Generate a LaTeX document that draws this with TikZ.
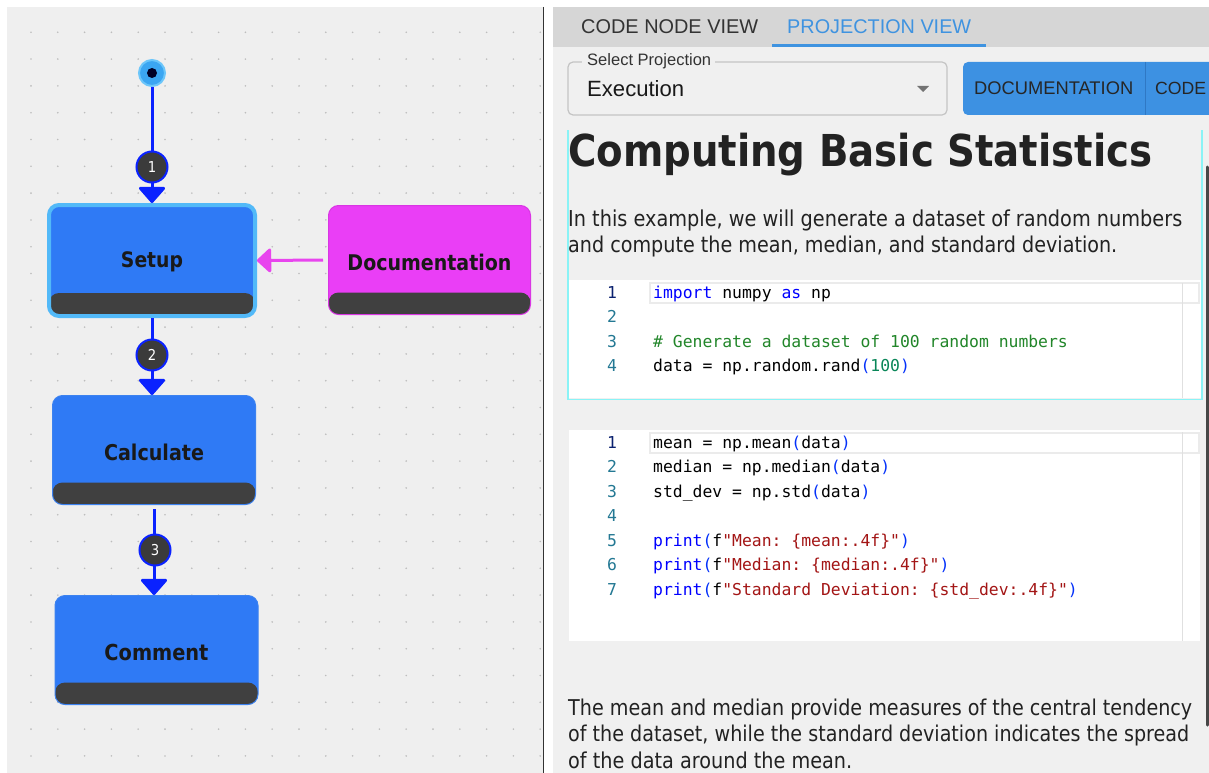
\documentclass[tikz,border=0pt]{standalone}
\usepackage{fontspec}
\usepackage{graphicx}
\setmonofont{DejaVu Sans Mono}
\newfontfamily\uifont{Liberation Sans}
\newfontfamily\tahfont[FakeStretch=0.88]{DejaVu Sans}
\usetikzlibrary{arrows.meta}
\definecolor{panelgray}{HTML}{EFEFEF}
\definecolor{rpanel}{HTML}{F0F0F0}
\definecolor{tabbar}{HTML}{D6D6D6}
\definecolor{tabblue}{HTML}{3F93E0}
\definecolor{uitext}{HTML}{333333}
\definecolor{selborder}{HTML}{C4C4C4}
\definecolor{btnblue}{HTML}{3D91E2}
\definecolor{btndiv}{HTML}{2F78C4}
\definecolor{cyanb}{HTML}{8AF3F6}
\definecolor{txt}{HTML}{222222}
\definecolor{nodeblue}{HTML}{2F7AF5}
\definecolor{nodeborder}{HTML}{3C82F0}
\definecolor{ring}{HTML}{52B9F8}
\definecolor{band}{HTML}{404040}
\definecolor{magentaf}{HTML}{EA3EF6}
\definecolor{magentab}{HTML}{D936E3}
\definecolor{edgeblue}{HTML}{0A22FF}
\definecolor{edgemag}{HTML}{E845EE}
\definecolor{badgefill}{HTML}{3B3B3B}
\definecolor{startfill}{HTML}{3BA6F2}
\definecolor{startring}{HTML}{6CC6FA}
\definecolor{dotc}{HTML}{BDBDBD}
\definecolor{kwblue}{HTML}{0000FF}
\definecolor{cmgreen}{HTML}{22862A}
\definecolor{numgreen}{HTML}{098658}
\definecolor{strred}{HTML}{A31515}
\definecolor{brblue}{HTML}{0431FA}
\definecolor{lnum}{HTML}{237893}
\definecolor{lnumact}{HTML}{0B216F}
\newcommand\fitw[2]{\resizebox{#1}{!}{#2}}
\newcommand\cKw[1]{\textcolor{kwblue}{#1}}
\newcommand\cCm[1]{\textcolor{cmgreen}{#1}}
\newcommand\cNum[1]{\textcolor{numgreen}{#1}}
\newcommand\cStr[1]{\textcolor{strred}{#1}}
\newcommand\cBr[1]{\textcolor{brblue}{#1}}
\begin{document}
\begin{tikzpicture}[x=1pt,y=-1pt,
  flownode/.style={rectangle, rounded corners=10pt, inner sep=0pt, text=txt},
  bandpic/.style={path picture={\fill[band] ([yshift=-2pt]path picture bounding box.south west) rectangle ([yshift=#1]path picture bounding box.south east);}},
  nlabel/.style={font=\tahfont\bfseries, text=black!90},
  badge/.style={circle, minimum size=31pt, inner sep=0pt, fill=badgefill, draw=edgeblue, line width=2pt, text=white, font=\tahfont\fontsize{15}{15}\selectfont},
  bedge/.style={draw=edgeblue, line width=3pt, -{Triangle[width=29pt,length=17pt,round]}},
  medge/.style={draw=edgemag, line width=3pt, -{Triangle[width=27pt,length=15pt,round]}},
  uilabel/.style={anchor=base west, inner sep=0pt},
  codeline/.style={anchor=mid west, inner sep=0pt, font=\ttfamily\fontsize{16.4}{20}\selectfont, text=black},
  lnumber/.style={anchor=mid, inner sep=0pt, font=\ttfamily\fontsize{16.4}{20}\selectfont, text=lnum},
  para/.style={anchor=base west, inner sep=0pt, text=txt}
]
\useasboundingbox (0,0) rectangle (1209,773);
\clip (0,0) rectangle (1209,773);
\fill[white] (0,0) rectangle (1209,773);
% ---------- left panel ----------
\fill[panelgray] (7,7) rectangle (543,773);
\foreach \i in {0,...,19} {
  \foreach \j in {0,...,27} {
    \fill[dotc] ({31+26.8*\i},{32.3+26.8*\j}) circle (0.9pt);
  }
}
\draw[black!80, line width=1.5pt] (543.5,7) -- (543.5,773);

\node[circle, minimum size=26pt, inner sep=0pt, fill=startfill, draw=startring, line width=2pt] (start) at (152,73) {};
\fill[black!85!blue] (start.center) circle (5pt);

\node[flownode, fill=nodeblue, draw=ring, line width=4pt, minimum width=206pt, minimum height=111pt, bandpic=23pt] (setup) at (152,260.5) {};
\node[nlabel, inner sep=0pt] (setuplbl) at (152,262) {\fitw{62pt}{Setup}};

\node[flownode, fill=magentaf, draw=magentab, line width=1pt, minimum width=202pt, minimum height=109pt, bandpic=22pt] (doc) at (429.5,260) {};
\node[nlabel, inner sep=0pt] (doclbl) at (429.5,262) {\fitw{164pt}{Documentation}};

\node[flownode, fill=nodeblue, draw=nodeborder, line width=1pt, minimum width=203pt, minimum height=109pt, bandpic=22pt] (calc) at (154,450) {};
\node[nlabel, inner sep=0pt] (calclbl) at (154,452) {\fitw{100pt}{Calculate}};

\node[flownode, fill=nodeblue, draw=nodeborder, line width=1pt, minimum width=203pt, minimum height=109pt, bandpic=22pt] (comment) at (156.5,650) {};
\node[nlabel, inner sep=0pt] (commentlbl) at (156.5,652) {\fitw{104pt}{Comment}};

\draw[bedge] (start) -- (setup.north);
\draw[bedge] (setup.south) -- (setup.south |- calc.north);
\draw[bedge, shorten <=4pt] (calc.south) -- (calc.south |- comment.north);
\draw[medge, shorten <=5pt] (doc.west) -- (setup.east);

\node[badge] (b1) at (152,167) {1};
\node[badge] (b2) at (152,355) {2};
\node[badge] (b3) at (155,550) {3};

% ---------- right panel ----------
\fill[rpanel] (553,7) rectangle (1209,773);
\fill[tabbar] (553,7) rectangle (1209,47);
\node[uilabel, text=uitext] (tab1) at (581,33.5) {\fitw{177pt}{\uifont CODE NODE VIEW}};
\node[uilabel, text=tabblue] (tab2) at (787,33.5) {\fitw{184pt}{\uifont PROJECTION VIEW}};
\fill[tabblue] (772,44) rectangle (986,47);

\draw[selborder, line width=1.2pt, rounded corners=5pt] (568,62) rectangle (947,115);
\fill[rpanel] (582,59) rectangle (715,65);
\node[uilabel, text=uitext] (sellbl) at (587,65.5) {\fitw{124pt}{\uifont Select Projection}};
\node[uilabel, text=black!90] (selval) at (587,96.5) {\fitw{97pt}{\uifont Execution}};
\fill[black!55] (917,86) -- (929,86) -- (923,92) -- cycle;

\fill[btnblue, rounded corners=5pt] (963,62) rectangle (1225,115);
\draw[btndiv, line width=1pt] (1145,62) -- (1145,115);
\node[uilabel, text=black!85] (btn1) at (974,94.5) {\fitw{159pt}{\uifont DOCUMENTATION}};
\node[uilabel, text=black!85] (btn2) at (1155,94.5) {\fitw{51pt}{\uifont CODE}};

% markdown + code cell 1
\draw[cyanb, line width=1.5pt] (568,130) -- (568,399.5) -- (1202,399.5) -- (1202,130);
\node[para] (head) at (568,167) {\fitw{584pt}{\tahfont\bfseries\fontsize{40}{40}\selectfont Computing Basic Statistics}};
\node[para] (intro1) at (568,226) {\fitw{614pt}{\tahfont\fontsize{20}{24}\selectfont In this example, we will generate a dataset of random numbers}};
\node[para] (intro2) at (568,252.5) {\fitw{549pt}{\tahfont\fontsize{20}{24}\selectfont and compute the mean, median, and standard deviation.}};

\fill[white] (569,280) rectangle (1201,398);
\draw[black!8, line width=1.5pt] (650,283) rectangle (1199,303);
\draw[black!12, line width=0.8pt] (1182,283) -- (1182,398);
\node[lnumber, text=lnumact] (l11) at (612,296) {1};
\node[lnumber] (l12) at (612,320.5) {2};
\node[lnumber] (l13) at (612,345) {3};
\node[lnumber] (l14) at (612,369.5) {4};
\node[codeline] (c11) at (653,296) {\cKw{import} numpy \cKw{as} np};
\node[codeline] (c13) at (653,345) {\cCm{\# Generate a dataset of 100 random numbers}};
\node[codeline] (c14) at (653,369.5) {data = np.random.rand\cBr{(}\cNum{100}\cBr{)}};

% code cell 2
\fill[white] (569,430) rectangle (1200,641);
\draw[black!8, line width=1.5pt] (650,433) rectangle (1199,453);
\draw[black!12, line width=0.8pt] (1182,432) -- (1182,641);
\node[lnumber, text=lnumact] (l21) at (612,446) {1};
\node[lnumber] (l22) at (612,470.5) {2};
\node[lnumber] (l23) at (612,495) {3};
\node[lnumber] (l24) at (612,519.5) {4};
\node[lnumber] (l25) at (612,544) {5};
\node[lnumber] (l26) at (612,568.5) {6};
\node[lnumber] (l27) at (612,593) {7};
\node[codeline] (c21) at (653,446) {mean = np.mean\cBr{(}data\cBr{)}};
\node[codeline] (c22) at (653,470.5) {median = np.median\cBr{(}data\cBr{)}};
\node[codeline] (c23) at (653,495) {std\_dev = np.std\cBr{(}data\cBr{)}};
\node[codeline] (c25) at (653,544) {\cKw{print}\cBr{(}f\cStr{"Mean: \{mean:.4f\}"}\cBr{)}};
\node[codeline] (c26) at (653,568.5) {\cKw{print}\cBr{(}f\cStr{"Median: \{median:.4f\}"}\cBr{)}};
\node[codeline] (c27) at (653,593) {\cKw{print}\cBr{(}f\cStr{"Standard Deviation: \{std\_dev:.4f\}"}\cBr{)}};

% closing paragraph
\node[para] (out1) at (568,715) {\fitw{624pt}{\tahfont\fontsize{20}{24}\selectfont The mean and median provide measures of the central tendency}};
\node[para] (out2) at (568,741.5) {\fitw{621pt}{\tahfont\fontsize{20}{24}\selectfont of the dataset, while the standard deviation indicates the spread}};
\node[para] (out3) at (568,768) {\fitw{284pt}{\tahfont\fontsize{20}{24}\selectfont of the data around the mean.}};

% scrollbar
\draw[black!72, line width=3pt, line cap=round] (1207.5,167) -- (1207.5,725);
\end{tikzpicture}
\end{document}
